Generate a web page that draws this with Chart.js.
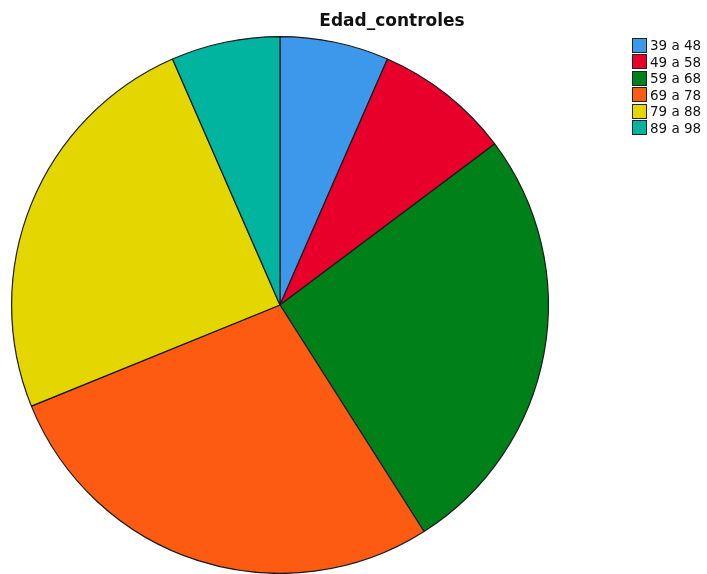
<!DOCTYPE html>
<html>
<head>
<meta charset="utf-8">
<script src="https://cdn.jsdelivr.net/npm/chart.js@4/dist/chart.umd.min.js"></script>
<style>
  html, body { margin: 0; padding: 0; background: #fff; }
  #wrap { position: relative; width: 707px; height: 574px; overflow: hidden; }
  #title {
    position: absolute; left: 292px; width: 200px; top: 10px;
    text-align: center; font: bold 17px "DejaVu Sans", sans-serif; color: #111;
  }
  #legend { position: absolute; left: 632px; top: 37px; font: 13.5px "DejaVu Sans", sans-serif; color: #111; }
  .row { display: flex; align-items: center; height: 16.5px; white-space: nowrap; }
  .sw { width: 13px; height: 13px; border: 1px solid #222; box-sizing: content-box; margin-right: 3px; }
</style>
</head>
<body>
<div id="wrap">
  <canvas id="c" width="707" height="574"></canvas>
  <div id="title">Edad_controles</div>
  <div id="legend"></div>
</div>
<script>
// Age groups of the control group and number of people in each
const categories = ['39 a 48', '49 a 58', '59 a 68', '69 a 78', '79 a 88', '89 a 98'];
const counts = [4, 5, 16, 17, 15, 4];
const colors = ['#3d97ea', '#e8002b', '#008019', '#fd5a12', '#e4d600', '#00b49f'];

// Legend built from the same categories and colours
const legend = document.getElementById('legend');
categories.forEach((label, i) => {
  const row = document.createElement('div');
  row.className = 'row';
  const sw = document.createElement('span');
  sw.className = 'sw';
  sw.style.background = colors[i];
  const txt = document.createElement('span');
  txt.textContent = label;
  row.appendChild(sw);
  row.appendChild(txt);
  legend.appendChild(row);
});

new Chart(document.getElementById('c'), {
  type: 'pie',
  data: {
    labels: categories,
    datasets: [{
      data: counts,
      backgroundColor: colors,
      borderColor: '#1a1a1a',
      borderWidth: 1.2
    }]
  },
  options: {
    responsive: false,
    animation: false,
    layout: { padding: { top: 36, left: 11, right: 158, bottom: 0 } },
    plugins: {
      legend: { display: false },
      title: { display: false },
      tooltip: { enabled: false }
    }
  }
});
</script>
</body>
</html>
